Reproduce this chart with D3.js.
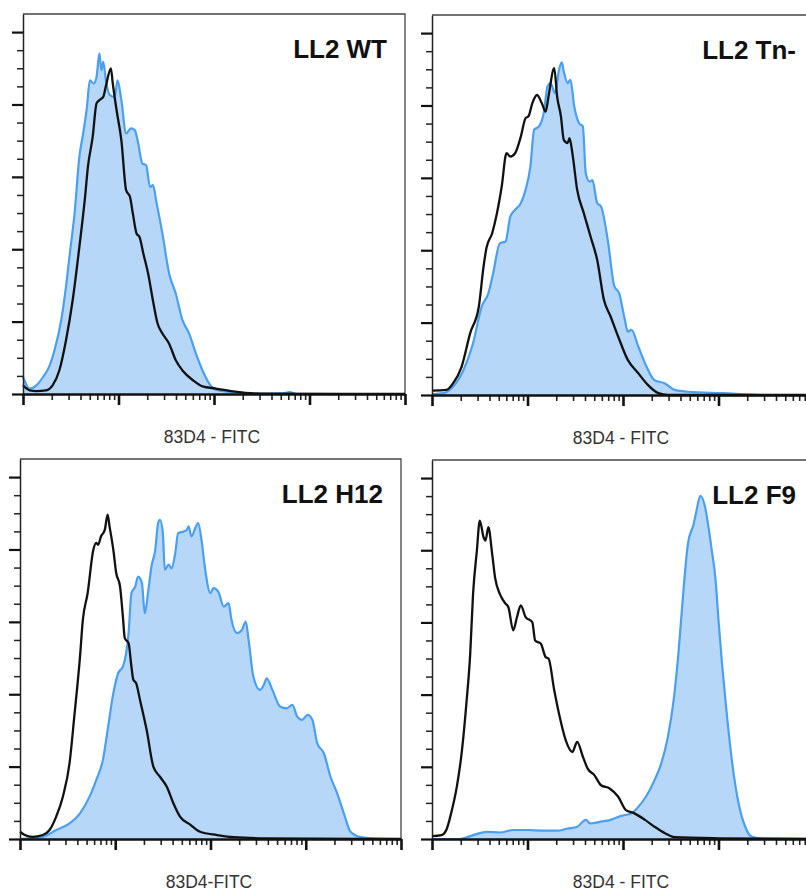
<!DOCTYPE html>
<html>
<head>
<meta charset="utf-8">
<script src="https://cdn.jsdelivr.net/npm/d3@7"></script>
<style>
  body { margin: 0; background: #fff; }
  svg { display: block; }
</style>
</head>
<body>
<svg id="chart" width="806" height="892"></svg>
<script>
// each point: [log10 fluorescence, events]
var titles = ["LL2 WT", "LL2 Tn-", "LL2 H12", "LL2 F9"];
var xLabels = ["83D4 - FITC", "83D4 - FITC", "83D4-FITC", "83D4 - FITC"];
var yMajorTicks = [0, 20, 40, 60, 80, 100];
var yMinorTicks = [5, 10, 15, 25, 30, 35, 45, 50, 55, 65, 70, 75, 85, 90, 95];

var ctrlWT = [[1.00,2.4],[1.07,1.0],[1.14,0.8],[1.24,1.0],[1.31,2.4],[1.38,6.5],[1.45,14.8],[1.52,25.9],[1.59,40.6],[1.65,54.5],[1.68,62.8],[1.73,71.1],[1.77,80.3],[1.80,81.2],[1.84,82.1],[1.87,85.3],[1.92,90.0],[1.94,85.8],[1.98,78.4],[2.03,70.1],[2.08,56.3],[2.12,54.5],[2.15,49.9],[2.19,44.3],[2.22,43.4],[2.26,38.8],[2.31,33.3],[2.36,25.9],[2.41,19.4],[2.46,16.7],[2.53,13.9],[2.60,9.3],[2.67,6.5],[2.78,3.8],[2.88,2.1],[3.02,1.5],[3.20,0.7],[3.48,0.1],[5.00,0]];
var stainWT = [[1.00,4.7],[1.07,1.5],[1.14,2.4],[1.21,4.7],[1.28,7.9],[1.33,12.1],[1.40,20.4],[1.45,29.6],[1.49,38.8],[1.54,49.9],[1.59,65.5],[1.63,72.0],[1.67,79.4],[1.70,86.7],[1.74,85.8],[1.77,87.6],[1.80,94.1],[1.82,89.5],[1.84,91.8],[1.87,86.3],[1.91,82.6],[1.96,82.1],[1.99,86.7],[2.03,81.2],[2.08,72.0],[2.13,73.4],[2.17,72.9],[2.20,70.1],[2.25,63.7],[2.29,63.2],[2.33,57.2],[2.36,57.7],[2.40,52.6],[2.46,44.3],[2.53,33.3],[2.60,27.7],[2.67,20.4],[2.74,16.7],[2.81,11.2],[2.88,6.5],[2.95,2.9],[3.02,1.2],[3.20,0.5],[3.48,0.1],[3.72,0.2],[3.79,0.5],[3.86,0],[5.00,0]];

var ctrlTn = [[1.00,1.2],[1.15,1.4],[1.22,3.2],[1.31,7.8],[1.40,17.1],[1.49,24.4],[1.54,35.5],[1.57,40.6],[1.63,44.7],[1.68,50.2],[1.73,57.6],[1.78,66.8],[1.82,65.9],[1.87,66.8],[1.93,71.4],[1.98,76.5],[2.01,77.0],[2.05,80.6],[2.10,82.9],[2.15,80.6],[2.19,78.3],[2.22,82.5],[2.28,90.3],[2.31,82.5],[2.35,77.0],[2.38,70.5],[2.42,69.6],[2.44,71.0],[2.47,66.8],[2.52,56.7],[2.59,50.2],[2.66,43.8],[2.73,37.3],[2.80,26.3],[2.87,21.7],[2.95,16.1],[3.05,9.7],[3.16,6.0],[3.26,2.8],[3.37,0.5],[3.47,0],[5.00,0]];
var stainTn = [[1.00,0.2],[1.12,0.5],[1.22,2.3],[1.33,6.9],[1.43,14.3],[1.52,24.4],[1.59,28.1],[1.64,33.6],[1.71,41.9],[1.77,42.4],[1.82,49.3],[1.87,51.2],[1.93,53.0],[1.98,56.7],[2.03,63.1],[2.07,73.3],[2.12,74.2],[2.17,77.9],[2.21,85.3],[2.24,86.2],[2.29,83.4],[2.33,89.9],[2.36,91.9],[2.38,89.4],[2.42,86.2],[2.45,87.1],[2.49,79.7],[2.54,75.1],[2.58,74.2],[2.61,61.3],[2.65,59.0],[2.68,59.4],[2.73,53.0],[2.77,52.1],[2.84,42.9],[2.91,30.0],[2.96,28.1],[3.02,20.7],[3.05,17.5],[3.09,18.0],[3.16,13.4],[3.23,8.8],[3.33,4.1],[3.44,3.2],[3.54,1.4],[3.68,0.9],[4.04,0.5],[4.46,0],[5.00,0]];

var ctrlH12 = [[1.00,2.0],[1.05,1.1],[1.13,0.6],[1.24,1.1],[1.31,2.5],[1.38,6.2],[1.45,11.7],[1.52,20.9],[1.57,33.8],[1.63,50.4],[1.66,60.6],[1.71,67.9],[1.77,79.9],[1.80,81.8],[1.82,81.3],[1.85,83.6],[1.89,85.4],[1.92,89.6],[1.94,86.4],[1.98,79.9],[2.01,73.5],[2.05,69.8],[2.08,61.5],[2.10,55.5],[2.14,54.1],[2.17,47.6],[2.19,44.0],[2.22,43.0],[2.26,38.4],[2.33,30.1],[2.40,20.0],[2.47,17.2],[2.54,14.5],[2.61,9.9],[2.68,6.2],[2.79,3.9],[2.89,2.0],[3.07,1.1],[3.24,0.5],[3.59,0.2],[5.00,0]];
var stainH12 = [[1.00,0],[1.24,0.6],[1.38,2.5],[1.52,4.3],[1.63,7.1],[1.73,11.7],[1.80,16.3],[1.87,21.8],[1.92,30.1],[1.98,40.3],[2.03,45.8],[2.08,47.6],[2.14,56.9],[2.17,67.9],[2.21,69.8],[2.24,72.5],[2.28,70.7],[2.31,62.4],[2.35,69.3],[2.38,75.3],[2.42,79.9],[2.45,87.3],[2.47,88.2],[2.50,84.5],[2.52,74.4],[2.56,75.8],[2.59,74.8],[2.63,79.0],[2.66,84.5],[2.72,85.0],[2.75,85.4],[2.77,86.4],[2.80,83.6],[2.84,85.9],[2.87,87.3],[2.91,81.8],[2.94,75.3],[3.00,67.9],[3.03,69.3],[3.08,68.4],[3.14,64.2],[3.19,65.2],[3.22,60.6],[3.28,56.9],[3.33,57.8],[3.37,60.1],[3.40,55.0],[3.45,44.9],[3.52,41.2],[3.56,42.6],[3.59,44.4],[3.65,41.2],[3.73,36.6],[3.80,36.1],[3.86,37.1],[3.91,33.8],[3.96,32.9],[4.02,34.3],[4.07,32.9],[4.12,26.5],[4.19,23.7],[4.26,17.2],[4.33,12.6],[4.40,7.1],[4.47,2.0],[4.58,0.5],[4.75,0.1],[5.00,0]];

var ctrlF9 = [[1.00,0.8],[1.10,1.1],[1.15,2.5],[1.20,7.1],[1.26,14.5],[1.31,23.7],[1.36,37.5],[1.40,51.3],[1.43,67.9],[1.47,79.9],[1.50,88.2],[1.54,83.6],[1.56,82.7],[1.59,86.4],[1.63,79.0],[1.66,72.5],[1.71,67.9],[1.77,65.2],[1.80,64.2],[1.85,57.8],[1.89,61.5],[1.93,64.7],[1.98,61.5],[2.05,60.1],[2.08,55.0],[2.14,54.1],[2.19,50.4],[2.22,50.0],[2.28,41.2],[2.33,34.7],[2.40,27.4],[2.47,24.1],[2.52,26.9],[2.58,22.8],[2.63,19.5],[2.70,17.7],[2.77,14.9],[2.86,14.0],[2.95,11.7],[3.03,8.0],[3.12,7.1],[3.23,5.3],[3.33,3.4],[3.44,1.6],[3.54,0.5],[4.00,0.2],[5.00,0]];
var stainF9 = [[1.00,0],[1.29,0],[1.40,0.8],[1.57,2.0],[1.71,1.8],[1.85,2.5],[2.00,2.5],[2.17,2.3],[2.31,2.3],[2.42,2.9],[2.52,3.4],[2.61,5.3],[2.66,4.3],[2.77,4.8],[2.87,5.3],[2.98,6.4],[3.09,7.1],[3.16,8.9],[3.24,11.7],[3.33,16.3],[3.40,20.9],[3.47,28.3],[3.53,38.4],[3.58,51.3],[3.63,67.9],[3.68,81.8],[3.74,87.3],[3.77,91.0],[3.81,95.1],[3.86,91.9],[3.89,87.3],[3.93,79.9],[3.97,71.6],[4.00,60.6],[4.04,47.6],[4.09,33.8],[4.14,21.8],[4.21,9.9],[4.28,3.4],[4.35,0.6],[4.46,0.1],[5.00,0]];

var controls = [ctrlWT, ctrlTn, ctrlH12, ctrlF9];
var stains = [stainWT, stainTn, stainH12, stainF9];

// panel boxes (left, top, width, height)
var boxes = [
  {x: 23, y: 14, w: 382, h: 380},
  {x: 432, y: 15, w: 382, h: 380},
  {x: 20, y: 459, w: 381, h: 380},
  {x: 432, y: 460, w: 382, h: 379}
];

var svg = d3.select("#chart");
var fontFam = "'Liberation Sans', Arial, sans-serif";

boxes.forEach(function(b, i) {
  var g = svg.append("g").attr("transform", "translate(" + b.x + "," + b.y + ")");

  var x = d3.scaleLog().domain([1e1, 1e5]).range([0, b.w]);
  var y = d3.scaleLinear().domain([0, 105]).range([b.h, 0]);

  // frame top + right
  g.append("path")
    .attr("d", "M0,0H" + b.w + "V" + b.h)
    .attr("fill", "none")
    .attr("stroke", "#444")
    .attr("stroke-width", 1.3);

  var area = d3.area()
    .curve(d3.curveMonotoneX)
    .x(function(d) { return x(Math.pow(10, d[0])); })
    .y0(y(0))
    .y1(function(d) { return y(d[1]); });
  var line = d3.line()
    .curve(d3.curveMonotoneX)
    .x(function(d) { return x(Math.pow(10, d[0])); })
    .y(function(d) { return y(d[1]); });

  g.append("path").datum(stains[i])
    .attr("d", area)
    .attr("fill", "#b6d7f8");
  g.append("path").datum(stains[i])
    .attr("d", line)
    .attr("fill", "none")
    .attr("stroke", "#4a9ff0")
    .attr("stroke-width", 2.2)
    .attr("stroke-linejoin", "round");
  g.append("path").datum(controls[i])
    .attr("d", line)
    .attr("fill", "none")
    .attr("stroke", "#111")
    .attr("stroke-width", 2.3)
    .attr("stroke-linejoin", "round");

  // y axis: minor then major ticks
  g.append("g")
    .call(d3.axisLeft(y).tickValues(yMinorTicks).tickSize(6).tickSizeOuter(0).tickFormat(""))
    .call(function(a) {
      a.select(".domain").remove();
      a.selectAll("line").attr("stroke", "#222").attr("stroke-width", 1.5);
    });
  g.append("g")
    .call(d3.axisLeft(y).tickValues(yMajorTicks).tickSize(11).tickSizeOuter(0).tickFormat(""))
    .call(function(a) {
      a.select(".domain").attr("stroke", "#222").attr("stroke-width", 1.5);
      a.selectAll("line").attr("stroke", "#111").attr("stroke-width", 2.2);
    });

  // x axis: log ticks
  var allTicks = x.ticks();
  var majors = allTicks.filter(function(t) { return Math.abs(Math.log10(t) % 1) < 1e-9; });
  var minors = allTicks.filter(function(t) { return Math.abs(Math.log10(t) % 1) >= 1e-9; });
  g.append("g")
    .attr("transform", "translate(0," + b.h + ")")
    .call(d3.axisBottom(x).tickValues(minors).tickSize(6).tickSizeOuter(0).tickFormat(""))
    .call(function(a) {
      a.select(".domain").remove();
      a.selectAll("line").attr("stroke", "#222").attr("stroke-width", 1.6);
    });
  g.append("g")
    .attr("transform", "translate(0," + b.h + ")")
    .call(d3.axisBottom(x).tickValues(majors).tickSize(11).tickSizeOuter(0).tickFormat(""))
    .call(function(a) {
      a.select(".domain").attr("stroke", "#111").attr("stroke-width", 2.6);
      a.selectAll("line").attr("stroke", "#111").attr("stroke-width", 2.6);
    });

  // panel title
  g.append("text")
    .attr("x", b.w - 18)
    .attr("y", 44)
    .attr("text-anchor", "end")
    .attr("font-family", fontFam)
    .attr("font-weight", "bold")
    .attr("font-size", 26)
    .attr("fill", "#111")
    .text(titles[i]);

  // axis label
  g.append("text")
    .attr("x", 189)
    .attr("y", b.h + 49)
    .attr("text-anchor", "middle")
    .attr("font-family", fontFam)
    .attr("font-size", 17.5)
    .attr("fill", "#333")
    .text(xLabels[i]);
});
</script>
</body>
</html>
